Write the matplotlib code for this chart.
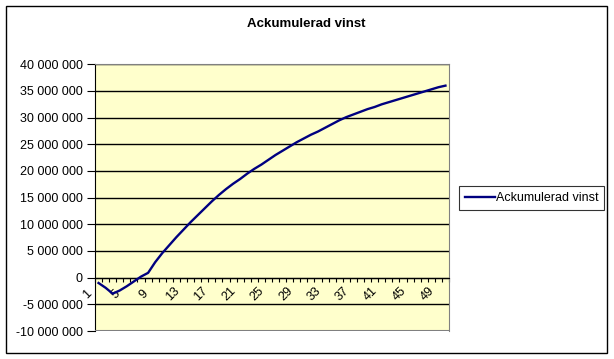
import numpy as np
import matplotlib
matplotlib.use("Agg")
import matplotlib.pyplot as plt
from matplotlib.patches import Rectangle
from matplotlib.transforms import ScaledTranslation

plt.rcParams['font.family'] = ['Liberation Sans', 'DejaVu Sans']

# accumulated profit per year, in millions
years = np.arange(1, 51)
profit_m = [
    -1.0, -1.9, -3.0, -2.4, -1.6, -0.7, 0.2, 0.9, 2.9, 4.6,
    6.1, 7.6, 9.0, 10.4, 11.7, 13.0, 14.3, 15.5, 16.6, 17.6,
    18.5, 19.5, 20.4, 21.2, 22.1, 23.0, 23.8, 24.6, 25.4, 26.1,
    26.8, 27.4, 28.1, 28.8, 29.5, 30.1, 30.6, 31.1, 31.6, 32.0,
    32.5, 32.9, 33.3, 33.7, 34.1, 34.5, 34.9, 35.3, 35.7, 36.0,
]
profit = np.array(profit_m) * 1e6
label_years = list(range(1, 51, 4))
y_ticks = list(range(-10_000_000, 40_000_001, 5_000_000))

title = "Ackumulerad vinst"
series_name = "Ackumulerad vinst"

W, H = 614, 359
fig = plt.figure(figsize=(W / 100, H / 100), dpi=100)
fig.patch.set_facecolor("white")

# plot area in pixels: x 95..449, y 64..331
ax = fig.add_axes([95 / W, 1 - 331 / H, 354 / W, (331 - 64.3) / H])
ax.set_facecolor("#FFFFCC")

ax.plot(years, profit, color="#000080", lw=1.7, label=series_name, zorder=3)

ax.set_xlim(0.5, 50.5)
ax.set_ylim(y_ticks[0], y_ticks[-1])

ax.set_yticks(y_ticks)
ax.set_yticklabels([f"{v:,}".replace(",", " ") for v in y_ticks])
ax.yaxis.grid(True, color="black", lw=1)
ax.set_axisbelow(True)

# category axis crossing at zero, ticks between categories
ax.spines["bottom"].set_position(("data", 0))
ax.spines["bottom"].set_color("black")
ax.spines["left"].set_color("black")
for s in ("top", "right"):
    ax.spines[s].set_color("#808080")
ax.axhline(y_ticks[0], color="#808080", lw=1.5, zorder=2.6)

ax.set_xticks(np.arange(0.5, 51, 1))
ax.set_xticklabels([])
ax.set_xticks(label_years, minor=True)
ax.set_xticklabels([str(y) for y in label_years], minor=True)
ax.tick_params(axis="x", which="major", direction="out", length=2.7, width=0.8, color="black")
ax.tick_params(axis="x", which="minor", length=0, pad=12, labelsize=9)
offset = ScaledTranslation(-0.11, 0, fig.dpi_scale_trans)
for lab in ax.get_xticklabels(minor=True):
    lab.set_rotation(45)
    lab.set_ha("center")
    lab.set_va("center")
    lab.set_transform(lab.get_transform() + offset)

ax.tick_params(axis="y", direction="out", length=6, width=0.8, pad=3, labelsize=9)

fig.text(306.7 / W, 1 - 24.3 / H, title, ha="center", va="center",
         fontsize=9.5, fontweight="bold")

leg = fig.legend(loc="center left", bbox_to_anchor=(459 / W, 1 - 198 / H),
                 frameon=True, fancybox=False, edgecolor="black", fontsize=9,
                 handlelength=2.4, handletextpad=0.1, borderpad=0.45,
                 borderaxespad=0)
leg.get_frame().set_linewidth(0.8)

fig.patches.append(Rectangle((5.5 / W, 1 - 353.3 / H), (607 - 5.5) / W, (353.3 - 5.5) / H,
                             transform=fig.transFigure, fill=False, ec="black", lw=1))

fig.savefig("out.png", dpi=100)
